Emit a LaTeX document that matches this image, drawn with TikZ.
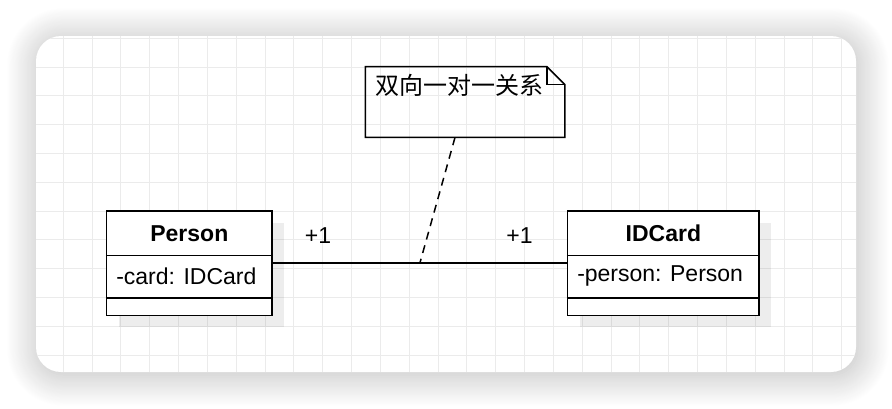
\documentclass[tikz,border=0pt]{standalone}
\usepackage{fontspec}
\setmainfont{Liberation Sans}
\newfontfamily\cjk{Noto Sans CJK SC}
\usetikzlibrary{shadows,shadows.blur}
\begin{document}
\begin{tikzpicture}[x=0.5pt,y=-0.5pt,line width=0.75pt,
  font=\fontsize{11.5}{14}\selectfont,
  gridline/.style={draw=black!8,line width=0.5pt},
  classbox/.style={draw,fill=white,minimum height=52.15pt,inner sep=0pt,
    drop shadow={shadow xshift=6pt,shadow yshift=-6pt,fill=black,opacity=0.07}},
  attr/.style={anchor=west,inner sep=0pt}]
\useasboundingbox (0,0) rectangle (892,408);
\fill[white,rounded corners=12.5pt,
  blur shadow={shadow xshift=1pt,shadow yshift=-1.5pt,shadow blur radius=16pt,
    shadow blur steps=40,shadow opacity=28}]
  (36,36) rectangle (856,372);
\begin{scope}
\clip[rounded corners=12.5pt] (36,36) rectangle (856,372);
\foreach \i in {0,...,28} \draw[gridline] ({34.5+28.83*\i},36) -- ++(0,336);
\foreach \j in {0,...,11} \draw[gridline] (36,{38.3+28.8*\j}) -- ++(820,0);
\end{scope}

\node[classbox,minimum width=82.65pt] (person) at (189.35,263.15) {};
\node[font=\bfseries\fontsize{11.5}{14}\selectfont] (personname) at (189.35,233.5) {Person};
\draw ([yshift=-22.5pt]person.north west) -- ([yshift=-22.5pt]person.north east);
\draw ([yshift=9pt]person.south west) -- ([yshift=9pt]person.south east);
\node[attr] (personattr) at (115.5,276) {-card: IDCard};

\node[classbox,minimum width=95.65pt] (idcard) at (663.35,263.15) {};
\node[font=\bfseries\fontsize{11.5}{14}\selectfont] (idcardname) at (663.35,233.5) {IDCard};
\draw ([yshift=-22.5pt]idcard.north west) -- ([yshift=-22.5pt]idcard.north east);
\draw ([yshift=9pt]idcard.south west) -- ([yshift=9pt]idcard.south east);
\node[attr] (idcardattr) at (576.5,276) {-person: Person};

\draw (person.east) -- node[coordinate,pos=0.5] (link) {} (idcard.west);
\node (multleft) at (318,236) {+1};
\node (multright) at (519.5,236) {+1};

\node[minimum width=99pt,minimum height=34.7pt,inner sep=0pt] (note) at (465,102) {};
\draw (note.north west) -- ([xshift=-9pt]note.north east) -- ([yshift=-9pt]note.north east)
  -- (note.south east) -- (note.south west) -- cycle;
\draw ([xshift=-9pt]note.north east) |- ([yshift=-9pt]note.north east);
\node[anchor=west,inner sep=0pt,font=\cjk\fontsize{12}{14}\selectfont] (notetext) at (375,85) {双向一对一关系};
\draw[dashed,dash pattern=on 4pt off 3pt] ([xshift=-5pt]note.south) -- (link);
\end{tikzpicture}
\end{document}
